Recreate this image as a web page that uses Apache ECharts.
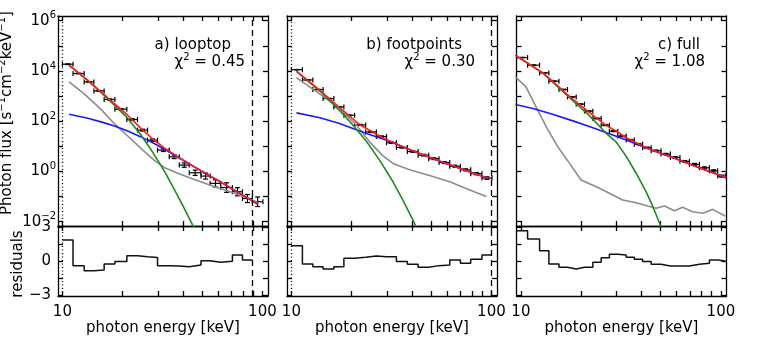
<!DOCTYPE html>
<html>
<head>
<meta charset="utf-8">
<script src="https://cdn.jsdelivr.net/npm/echarts@6/dist/echarts.min.js"></script>
<style>
  html, body { margin: 0; padding: 0; background: #fff; }
  #chart { width: 764px; height: 339px; }
</style>
</head>
<body>
<div id="chart"></div>
<script>
// ---- a) looptop ----
const edgesA = [10.0, 11.3, 12.85, 14.37, 16.17, 18.3, 21.0, 23.75, 26.65, 29.9, 34.2, 38.4, 43.1, 49.3, 54.8, 61.9, 70.8, 79.5, 89.1, 100.6];
const fluxA = [1.85e4, 7.9e3, 3.66e3, 1.6e3, 731, 301, 117, 44.1, 17.7, 7.08, 3.83, 1.79, 0.887, 0.655, 0.336, 0.229, 0.156, 0.0838, 0.0624];
const errA = [0.03, 0.03, 0.03, 0.04, 0.05, 0.06, 0.07, 0.09, 0.11, 0.14, 0.18, 0.22, 0.28, 0.32, 0.4, 0.55, 0.45, 0.45, 0.55];
const residA = [1.86, -0.41, -0.86, -0.8, -0.26, -0.05, 0.47, 0.38, 0.3, -0.41, -0.44, -0.5, -0.36, 0.03, -0.12, -0.02, 0.53, 0.09];
const totalA = [[10.8, 1.69e4], [13.4, 4.2e3], [15.6, 1.47e3], [18.2, 501], [21.2, 173], [24.7, 51.9], [28.2, 20], [32.3, 8.72], [37.7, 3.9], [45.6, 1.55], [57.4, 0.54], [72.3, 0.186], [94.6, 0.05]];
const thermalA = [[10.8, 1.67e4], [13.4, 4.07e3], [15.6, 1.38e3], [18.2, 437], [21.2, 132], [24.7, 28.2], [28.2, 6.03], [32.3, 1.05], [36.2, 0.2], [39.9, 0.0457], [43.9, 0.01], [46.6, 0.004]];
const powerA = [[10.8, 190], [13.4, 130], [15.6, 94], [18.2, 64], [21.2, 40.6], [24.7, 23.7], [28.8, 12.9], [33.6, 6.43], [37.7, 3.74], [45.6, 1.52], [57.4, 0.528], [72.3, 0.183], [94.6, 0.05]];
const backA = [[10.8, 3.63e3], [12.9, 1.2e3], [15.6, 295], [18.2, 79.4], [21.2, 25.7], [24.7, 8.3], [28.8, 2.75], [32.3, 1.45], [37.7, 0.85], [45.6, 0.48], [57.4, 0.25], [69.6, 0.151], [84.3, 0.087], [94.6, 0.059]];
const rangeA = [10, 89.3];

// ---- b) footpoints ----
const edgesB = [10.0, 11.35, 12.8, 14.4, 16.3, 18.3, 20.7, 23.5, 26.6, 29.9, 33.5, 38.0, 43.0, 48.6, 54.7, 61.9, 70.0, 78.8, 89.7, 100.7];
const fluxB = [1.12e4, 4.36e3, 1.82e3, 794, 368, 171, 71, 37.4, 24.5, 13.9, 9.06, 6.22, 4.44, 3.22, 2.25, 1.61, 1.16, 0.817, 0.546];
const errB = [0.02, 0.02, 0.02, 0.03, 0.03, 0.04, 0.05, 0.05, 0.06, 0.07, 0.07, 0.08, 0.08, 0.09, 0.09, 0.1, 0.1, 0.11, 0.12];
const residB = [1.36, -0.26, -0.5, -0.71, -0.5, 0.24, 0.33, 0.45, 0.38, 0.38, -0.05, -0.29, -0.56, -0.41, -0.36, 0.09, -0.2, 0.15, 0.53];
const totalB = [[10.6, 9.8e3], [13.9, 1.7e3], [17.4, 350], [22.0, 71.8], [28.7, 21.4], [36.1, 9.7], [45.5, 4.6], [57.3, 2.3], [72.1, 1.2], [96.2, 0.537]];
const thermalB = [[10.6, 9.55e3], [13.9, 1.55e3], [17.4, 269], [20.3, 70.8], [23.7, 15.8], [27.6, 2.82], [32.2, 0.389], [36.1, 0.073], [40.9, 0.01], [43.0, 0.004]];
const powerB = [[10.6, 214], [13.9, 138], [17.4, 81.3], [21.1, 45.7], [24.6, 29.5], [29.9, 17.4], [36.1, 9.55], [45.5, 4.57], [57.3, 2.29], [72.1, 1.2], [96.2, 0.537]];
const backB = [[10.6, 5.45e3], [13.9, 1.19e3], [17.4, 324], [21.1, 70.8], [24.6, 15.1], [28.7, 4.17], [32.2, 2.09], [39.0, 1.17], [49.1, 0.69], [61.9, 0.389], [77.9, 0.182], [94.4, 0.1]];
const rangeB = [10, 100];

// ---- c) full ----
const edgesC = [9.53, 10.8, 12.4, 13.8, 15.5, 17.1, 18.9, 20.8, 22.9, 25.2, 27.7, 30.5, 33.6, 36.9, 40.6, 44.8, 50.2, 55.9, 62.4, 69.6, 78.1, 87.6, 96.4, 105.3];
const fluxC = [3.4e4, 1.69e4, 8.34e3, 3.9e3, 1.82e3, 927, 475, 251, 128, 69.7, 40.2, 25.5, 17.7, 12.2, 8.77, 6.64, 4.91, 3.63, 2.52, 1.91, 1.4, 1.06, 0.655];
const errC = [0.02, 0.02, 0.02, 0.02, 0.03, 0.03, 0.03, 0.04, 0.04, 0.05, 0.05, 0.05, 0.06, 0.06, 0.07, 0.07, 0.07, 0.08, 0.08, 0.09, 0.09, 0.1, 0.1];
const residC = [2.68, 1.95, 0.91, -0.26, -0.56, -0.71, -0.56, -0.56, -0.12, 0.29, 0.59, 0.53, 0.33, 0.15, -0.05, -0.29, -0.45, -0.45, -0.45, -0.29, -0.2, 0.09, 0.0];
const totalC = [[9.39, 4.2e4], [12.9, 8.34e3], [17.6, 927], [21.8, 235], [26.7, 68], [29.9, 40.8], [33.6, 22], [42.3, 8.77], [57.4, 3.63], [78.1, 1.4], [106, 0.582]];
const thermalC = [[9.39, 4.15e4], [12.9, 8.1e3], [17.6, 820], [21.8, 178], [26.7, 33], [29.9, 15.1], [33.6, 3.98], [37.7, 0.85], [42.3, 0.155], [45.6, 0.0417], [48.9, 0.0105], [51.3, 0.004]];
const powerC = [[9.39, 462], [11.5, 321], [14.4, 190], [18.2, 103], [22.9, 54.4], [28.8, 27.9], [34.9, 15.8], [42.3, 8.5], [57.4, 3.55], [78.1, 1.38], [106, 0.575]];
const backC = [[9.39, 5.78e3], [10.6, 2.32e3], [11.9, 372], [13.4, 59.6], [15.3, 9.57], [17.5, 2.09], [20.0, 0.455], [24.7, 0.213], [32.3, 0.073], [37.7, 0.057], [43.1, 0.0422], [47.4, 0.0341], [52.2, 0.0422], [58.5, 0.0274], [64.4, 0.0374], [72.3, 0.025], [81.1, 0.0216], [91.0, 0.0311], [105, 0.0169]];
const rangeC = [];

const panelNames = ['a) looptop', 'b) footpoints', 'c) full'];
const chiSquared = ['0.45', '0.30', '1.08'];

// axis ticks
const energyTicks = [10, 20, 30, 40, 50, 60, 70, 80, 90, 100];
const energyLabels = [10, 100];
const fluxTickExp = [-2, -1, 0, 1, 2, 3, 4, 5, 6];
const fluxLabelExp = [-2, 0, 2, 4, 6];
const residTicks = [-3, -1.5, 0, 1.5, 3];
const residLabels = [-3, 0, 3];

const FONT = 'DejaVu Sans';
const INK = '#000';
const X_MIN = 0.978, X_MAX = 2.028;
const Y_MIN = -2.17, Y_MAX = 6.185;
const R_MIN = -3.1, R_MAX = 3.1;
const lefts = [58, 287, 516.5];

const lg = v => Math.log10(v);
const minus = n => (n < 0 ? '\u2212' + (-n) : String(n));

const grids = [];
const xAxes = [];
const yAxes = [];
const series = [];
const graphics = [];

function xAxis(gi, pos, labels) {
  return {
    type: 'value', gridIndex: gi, position: pos, min: X_MIN, max: X_MAX,
    axisLine: { onZero: false, lineStyle: { color: INK, width: 1.3 } },
    axisTick: { inside: true, length: 5, customValues: energyTicks.map(lg), lineStyle: { color: INK, width: 1.3 } },
    axisLabel: {
      show: labels, customValues: energyLabels.map(lg), margin: 9,
      formatter: v => String(Math.round(Math.pow(10, v))),
      fontFamily: FONT, fontSize: 15, color: INK
    },
    splitLine: { show: false },
    name: labels ? 'photon energy [keV]' : '', nameLocation: 'middle', nameGap: 24,
    nameTextStyle: { fontFamily: FONT, fontSize: 15, color: INK }
  };
}

function yAxis(gi, pos, labels, resid) {
  const ax = {
    type: 'value', gridIndex: gi, position: pos,
    min: resid ? R_MIN : Y_MIN, max: resid ? R_MAX : Y_MAX,
    axisLine: { onZero: false, lineStyle: { color: INK, width: 1.3 } },
    axisTick: { inside: true, length: 5, customValues: resid ? residTicks : fluxTickExp, lineStyle: { color: INK, width: 1.3 } },
    splitLine: { show: false },
    axisLabel: { show: labels, customValues: resid ? residLabels : fluxLabelExp, fontFamily: FONT, fontSize: 15, color: INK }
  };
  if (resid) {
    ax.axisLabel.margin = 7;
    ax.axisLabel.formatter = v => minus(Math.round(v));
  } else {
    ax.axisLabel.margin = 2;
    ax.axisLabel.formatter = v => '{b|10}{s|' + minus(Math.round(v)) + '}';
    ax.axisLabel.rich = {
      b: { fontFamily: FONT, fontSize: 15, lineHeight: 20, color: INK },
      s: { fontFamily: FONT, fontSize: 10, lineHeight: 10, verticalAlign: 'top', color: INK }
    };
  }
  return ax;
}

function modelLine(gi, pts, color) {
  return {
    type: 'line', xAxisIndex: 2 * gi, yAxisIndex: 2 * gi,
    data: pts.map(p => [lg(p[0]), lg(p[1])]),
    showSymbol: false, symbol: 'none', smooth: false,
    lineStyle: { color, width: 1.6, join: 'round' }, z: 4, silent: true
  };
}

function rangeLines(range) {
  return {
    silent: true, symbol: ['none', 'none'], label: { show: false }, animation: false,
    data: range.map((e, i) => ({
      xAxis: lg(e),
      lineStyle: { color: INK, width: 1.3, type: i === 0 ? [1, 2.5] : [6, 4] }
    }))
  };
}

function errorBars(gi, edges, flux, err) {
  const data = flux.map((f, i) => {
    const lo = lg(edges[i]), hi = lg(edges[i + 1]);
    return [lo, hi, (lo + hi) / 2, lg(f), lg(f / (1 + err[i])), lg(f * (1 + err[i]))];
  });
  return {
    type: 'custom', xAxisIndex: 2 * gi, yAxisIndex: 2 * gi, data, z: 3, silent: true,
    encode: { x: [0, 1, 2], y: [3, 4, 5] },
    renderItem(params, api) {
      const a = api.coord([api.value(0), api.value(3)]);
      const b = api.coord([api.value(1), api.value(3)]);
      const lo = api.coord([api.value(2), api.value(4)]);
      const hi = api.coord([api.value(2), api.value(5)]);
      const c = 2.5;
      const st = { stroke: INK, lineWidth: 1.2 };
      const seg = (x1, y1, x2, y2) => ({ type: 'line', shape: { x1, y1, x2, y2 }, style: st });
      return {
        type: 'group', children: [
          seg(a[0], a[1], b[0], b[1]),
          seg(a[0], a[1] - c, a[0], a[1] + c),
          seg(b[0], b[1] - c, b[0], b[1] + c),
          seg(lo[0], lo[1], hi[0], hi[1]),
          seg(lo[0] - c, lo[1], lo[0] + c, lo[1]),
          seg(hi[0] - c, hi[1], hi[0] + c, hi[1])
        ]
      };
    }
  };
}

function residStep(gi, edges, resid) {
  const data = resid.map((r, i) => [lg(edges[i]), r]);
  data.push([lg(edges[resid.length]), resid[resid.length - 1]]);
  return {
    type: 'line', xAxisIndex: 2 * gi, yAxisIndex: 2 * gi, step: 'end',
    data, showSymbol: false, symbol: 'none',
    lineStyle: { color: '#111', width: 1.5 }, silent: true
  };
}

const panels = [
  { edges: edgesA, flux: fluxA, err: errA, resid: residA, total: totalA, thermal: thermalA, power: powerA, back: backA, range: rangeA },
  { edges: edgesB, flux: fluxB, err: errB, resid: residB, total: totalB, thermal: thermalB, power: powerB, back: backB, range: rangeB },
  { edges: edgesC, flux: fluxC, err: errC, resid: residC, total: totalC, thermal: thermalC, power: powerC, back: backC, range: rangeC }
];

panels.forEach((p, k) => {
  const gTop = 2 * k, gRes = 2 * k + 1;
  grids.push({ left: lefts[k], top: 16, width: 210, height: 210 });
  grids.push({ left: lefts[k], top: 226, width: 210, height: 70 });

  xAxes.push(xAxis(gTop, 'bottom', false), xAxis(gTop, 'top', false));
  xAxes.push(xAxis(gRes, 'bottom', true), xAxis(gRes, 'top', false));
  yAxes.push(yAxis(gTop, 'left', k === 0, false), yAxis(gTop, 'right', false, false));
  yAxes.push(yAxis(gRes, 'left', k === 0, true), yAxis(gRes, 'right', false, true));

  series.push(errorBars(gTop, p.edges, p.flux, p.err));
  series.push(modelLine(gTop, p.back, '#8c8c8c'));
  series.push(modelLine(gTop, p.power, '#1a1aff'));
  series.push(modelLine(gTop, p.thermal, '#1f8a1f'));
  const tot = modelLine(gTop, p.total, '#ff1a1a');
  tot.markLine = rangeLines(p.range);
  series.push(tot);
  const rs = residStep(gRes, p.edges, p.resid);
  rs.markLine = rangeLines(p.range);
  series.push(rs);
});

// panel captions
const titleRight = [[231, 245], [462, 475], [700, 705]];
panelNames.forEach((name, k) => {
  graphics.push({
    type: 'text', silent: true,
    style: {
      text: name, x: titleRight[k][0], y: 45, align: 'right', textAlign: 'right',
      verticalAlign: 'middle', textVerticalAlign: 'middle',
      fontFamily: FONT, fontSize: 15, fill: INK
    }
  });
  graphics.push({
    type: 'text', silent: true,
    style: {
      text: '\u03c7{s|2} = ' + chiSquared[k], x: titleRight[k][1], y: 62, align: 'right', textAlign: 'right',
      verticalAlign: 'middle', textVerticalAlign: 'middle',
      fontFamily: FONT, fontSize: 15, fill: INK,
      rich: {
        s: { fontFamily: FONT, fontSize: 10, lineHeight: 10, verticalAlign: 'top', fill: INK }
      },
      lineHeight: 20
    }
  });
});

graphics.push({
  type: 'text', silent: true, x: 7.5, y: 215, rotation: Math.PI / 2,
  style: {
    text: 'Photon flux [s{s|\u22121}cm{s|\u22122}keV{s|\u22121}]', x: 0, y: 0,
    align: 'left', textAlign: 'left', verticalAlign: 'middle', textVerticalAlign: 'middle',
    fontFamily: FONT, fontSize: 15, fill: INK, lineHeight: 20,
    rich: { s: { fontFamily: FONT, fontSize: 10, lineHeight: 10, verticalAlign: 'top', fill: INK } }
  }
});
graphics.push({
  type: 'text', silent: true, x: 18.5, y: 264, rotation: Math.PI / 2,
  style: {
    text: 'residuals', x: 0, y: 0,
    align: 'center', textAlign: 'center', verticalAlign: 'middle', textVerticalAlign: 'middle',
    fontFamily: FONT, fontSize: 15, fill: INK
  }
});

const chart = echarts.init(document.getElementById('chart'), null, { renderer: 'canvas' });
chart.setOption({
  animation: false,
  backgroundColor: '#fff',
  grid: grids,
  xAxis: xAxes,
  yAxis: yAxes,
  series,
  graphic: graphics
});
</script>
</body>
</html>
